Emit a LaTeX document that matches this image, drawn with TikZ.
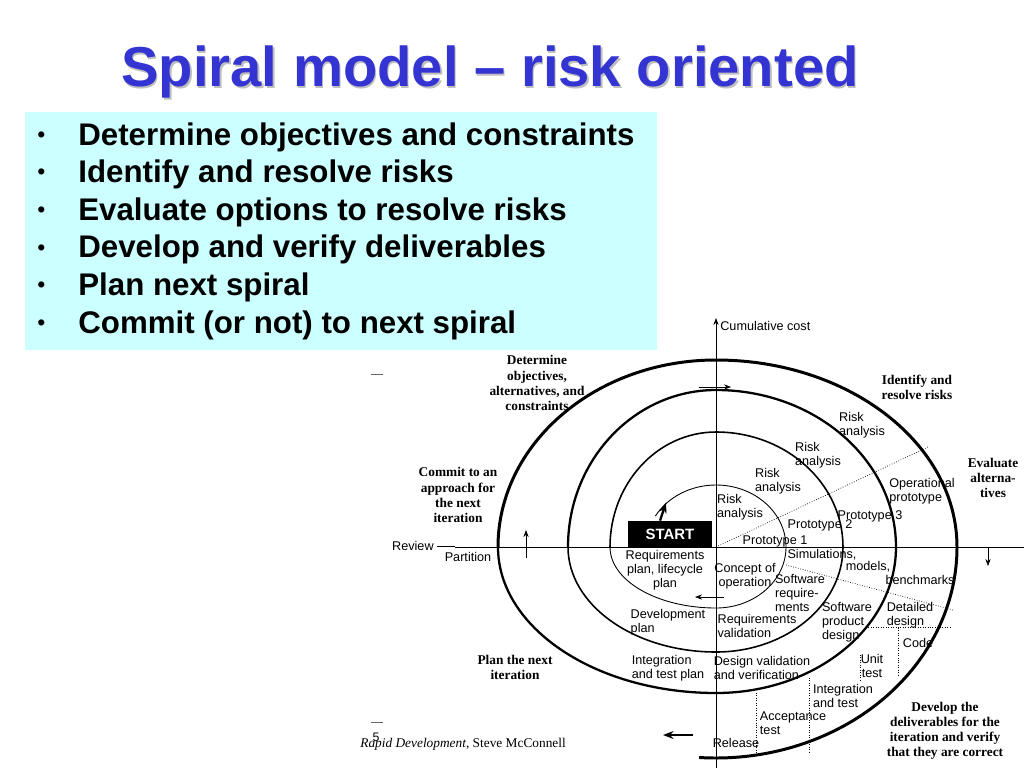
\documentclass[tikz,border=0pt]{standalone}
\usepackage{fontspec}
\setmainfont{Liberation Sans}
\newfontfamily\bookfont{Liberation Serif}
\usetikzlibrary{positioning, arrows.meta}
\definecolor{titleblue}{RGB}{52,52,210}
\definecolor{boxcyan}{RGB}{204,255,255}

\begin{document}
\begin{tikzpicture}[
        x=0.02cm, y=-0.02cm,
        bullet/.style={anchor=west, font=\fontsize{17.8}{20}\selectfont\bfseries, inner sep=0pt},
        lab/.style={font=\fontsize{7.2}{8}\selectfont, align=center, inner sep=0pt},
        serif/.style={font=\bookfont\fontsize{7.6}{8.6}\selectfont\bfseries, align=center, inner sep=0pt},
        arrow/.style={-{Stealth[length=4pt]}, thin},
        guide/.style={densely dotted, thin}
    ]
    \useasboundingbox (0,0) rectangle (1024,768);
    % Title
    \node[font=\fontsize{32}{34}\selectfont\bfseries, text=black!25] at (491.5,73.5) {Spiral model -- risk oriented};
    \node[font=\fontsize{32}{34}\selectfont\bfseries, text=titleblue] (title) at (490,72) {Spiral model -- risk oriented};
    
    % Bullet box
    \fill[boxcyan] (25,112) rectangle (657,350);
    \foreach \txt [count=\i] in {Determine objectives and constraints, Identify and resolve risks,
        Evaluate options to resolve risks, Develop and verify deliverables, Plan next spiral,
        Commit (or not) to next spiral}{
        \node[bullet] (b\i) at (78,{137+37.6*(\i-1)}) {\txt};
        \node[bullet, font=\fontsize{13}{14}\selectfont] at (37,{137+37.6*(\i-1)}) {\textbullet};
    }
    
    % Axes
    \coordinate (O) at (716,547);
    \draw (455,547) -- (1024,547);
    \draw[arrow] (716,768) -- (716,318);
    \node[lab, anchor=west] (cost) at (720,326) {Cumulative cost};
    \node[lab, anchor=east] (review) at (434,546) {Review};
    \draw (437,546) -- (455,546);
    \node[lab] (part) at (468,557) {Partition};
    
    % Spiral
    \begin{scope}[shift={(716,547)}, y=0.02cm]
        \draw[line width=0.5pt] (150:70 and 62) arc[start angle=150, end angle=90, x radius=70, y radius=62]
            arc[start angle=90, end angle=0, x radius=70, y radius=62]
            arc[start angle=0, end angle=-90, x radius=70, y radius=61]
            arc[start angle=-90, end angle=-180, x radius=106, y radius=61];
        \draw[line width=0.9pt] (-106,0) arc[start angle=180, end angle=90, x radius=106, y radius=115]
            arc[start angle=90, end angle=0, x radius=127, y radius=115]
            arc[start angle=0, end angle=-90, x radius=127, y radius=105]
            arc[start angle=-90, end angle=-180, x radius=148, y radius=105];
        \draw[line width=1.3pt] (-148,0) arc[start angle=180, end angle=90, x radius=148, y radius=157]
            arc[start angle=90, end angle=0, x radius=180, y radius=157]
            arc[start angle=0, end angle=-90, x radius=180, y radius=146]
            arc[start angle=-90, end angle=-180, x radius=218, y radius=146];
        \draw[line width=1.7pt] (-218,0) arc[start angle=180, end angle=90, x radius=218, y radius=187]
            arc[start angle=90, end angle=0, x radius=241, y radius=187]
            arc[start angle=0, end angle=-94, x radius=241, y radius=211];
    \end{scope}
    
    % Direction arrows
    \draw[arrow] (699,387) -- (731,387);
    \draw[arrow] (988,548) -- (988,566);
    \draw[-{Stealth[length=6pt]}, line width=1.2pt] (693,735) -- (663,735);
    \draw[arrow] (526,558) -- (526,530);
    \draw[arrow] (724,597) -- (695,597);
    
    % Start
    \node[fill=black, text=white, font=\fontsize{8.5}{9}\selectfont\bfseries, minimum width=84*0.02cm,
        minimum height=26*0.02cm, inner sep=0pt] (start) at (670,534) {START};
    \draw[-{Stealth[length=6pt]}, line width=1.3pt] (start.north) ++(-10,0) -- ++(6,-18);
    
    % Dotted guides
    \draw[guide] (O) -- (928,447);
    \draw[guide] (786,565) -- (953,610);
    \draw[guide] (866,627) -- (951,627);
    \draw[guide] (898,628) -- (898,675);
    \draw[guide] (860,655) -- (860,680);
    \draw[guide] (809,678) -- (809,753);
    \draw[guide] (756,693) -- (756,755);
    
    % Quadrant labels
    \node[serif] (det) at (537,383) {Determine\\objectives,\\alternatives, and\\constraints};
    \node[serif] (ident) at (917,387) {Identify and\\resolve risks};
    \node[serif] (eval) at (993,478) {Evaluate\\alterna-\\tives};
    \node[serif] (commit) at (458,495) {Commit to an\\approach for\\the next\\iteration};
    \node[serif] (plan) at (515,667) {Plan the next\\iteration};
    \node[serif] (devel) at (945,731) {Develop the\\deliverables for the\\iteration and verify\\that they are correct};
    
    % Spiral labels
    \node[lab, align=left] (ra1) at (740,507) {Risk\\analysis};
    \node[lab, align=left] (ra2) at (778,481) {Risk\\analysis};
    \node[lab, align=left] (ra3) at (818,455) {Risk\\analysis};
    \node[lab, align=left] (ra4) at (862,425) {Risk\\analysis};
    \node[lab, align=left] (op) at (922,491) {Operational\\prototype};
    \node[lab] (p3) at (870,516) {Prototype 3};
    \node[lab] (p2) at (820,525) {Prototype 2};
    \node[lab] (p1) at (775,541) {Prototype 1};
    \node[lab] (sim) at (822,555) {Simulations,};
    \node[lab] (mod) at (868,567) {models,};
    \node[lab] (bench) at (920,580) {benchmarks};
    \node[lab] (req) at (665,570) {Requirements\\plan, lifecycle\\plan};
    \node[lab] (conc) at (745,576) {Concept of\\operation};
    \node[lab, align=left] (swreq) at (800,593) {Software\\require-\\ments};
    \node[lab, align=left] (dplan) at (668,622) {Development\\plan};
    \node[lab, align=left] (rval) at (757,626) {Requirements\\validation};
    \node[lab, align=left] (spd) at (847,622) {Software\\product\\design};
    \node[lab, align=left] (dd) at (910,615) {Detailed\\design};
    \node[lab] (code) at (918,643) {Code};
    \node[lab] (unit) at (872,666) {Unit\\test};
    \node[lab, align=left] (itp) at (668,668) {Integration\\and test plan};
    \node[lab, align=left] (dvv) at (762,668) {Design validation\\and verification};
    \node[lab, align=left] (it) at (843,696) {Integration\\and test};
    \node[lab, align=left] (acc) at (793,723) {Acceptance\\test};
    \node[lab] (rel) at (736,743) {Release};
    
    % Source
    \node[font=\bookfont\fontsize{7.6}{8}\selectfont, anchor=west, inner sep=0pt] (src) at (360,744)
        {\textit{Rapid Development}, Steve McConnell};
    \node[font=\fontsize{7}{8}\selectfont, inner sep=0pt] (pg) at (376,737) {5};
    \draw[black!60] (371,374) -- (383,374);
    \draw[black!60] (371,722) -- (383,722);
\end{tikzpicture}
\end{document}
